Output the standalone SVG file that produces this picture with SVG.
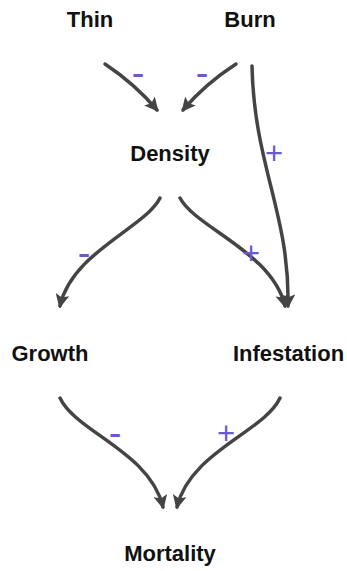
<svg xmlns="http://www.w3.org/2000/svg" width="347" height="571" viewBox="0 0 347 571">
<style>
.lbl{font-family:"Liberation Sans",Arial,sans-serif;font-weight:bold;font-size:22px;fill:#111;text-anchor:middle}
.pol{font-family:"Liberation Sans",Arial,sans-serif;fill:#6a5acd;text-anchor:middle}
.plus{font-size:31px}
.minus{font-size:38px}
.edge{fill:none;stroke:#444;stroke-width:3.5;stroke-linecap:round;marker-end:url(#ah)}
</style>
<defs>
<marker id="ah" viewBox="0 0 12 12" markerWidth="14" markerHeight="14" refX="10" refY="6" orient="auto" markerUnits="userSpaceOnUse">
<path d="M0,0 L12,6 L0,12 L2.5,6 z" fill="#444"/>
</marker>
</defs>
<rect width="347" height="571" fill="#fff"/>
<g id="connectors">
<path class="edge" d="M105,64 Q135,84 157,110"/>
<path class="edge" d="M236,64 Q205,84 183,110"/>
<path class="edge" d="M252,66 C254,165 290,215 288,306"/>
<path class="edge" d="M160,198 C145,228 72,252 60,306"/>
<path class="edge" d="M180,198 C196,228 272,252 285,306"/>
<path class="edge" d="M60,398 C76,432 150,452 163,507"/>
<path class="edge" d="M280,398 C264,432 190,452 177,507"/>
<text class="pol minus" x="138" y="86">-</text>
<text class="pol minus" x="202" y="86">-</text>
<text class="pol plus" x="274" y="164">+</text>
<text class="pol minus" x="84" y="266">-</text>
<text class="pol plus" x="251" y="264">+</text>
<text class="pol minus" x="115" y="446">-</text>
<text class="pol plus" x="226" y="444">+</text>
</g>
<g id="thin"><text class="lbl" x="90" y="27">Thin</text></g>
<g id="burn"><text class="lbl" x="250" y="27">Burn</text></g>
<g id="density"><text class="lbl" x="170" y="161">Density</text></g>
<g id="growth"><text class="lbl" x="50" y="361">Growth</text></g>
<g id="infestation"><text class="lbl" x="288.5" y="361">Infestation</text></g>
<g id="mortality"><text class="lbl" x="170" y="561">Mortality</text></g>
</svg>
